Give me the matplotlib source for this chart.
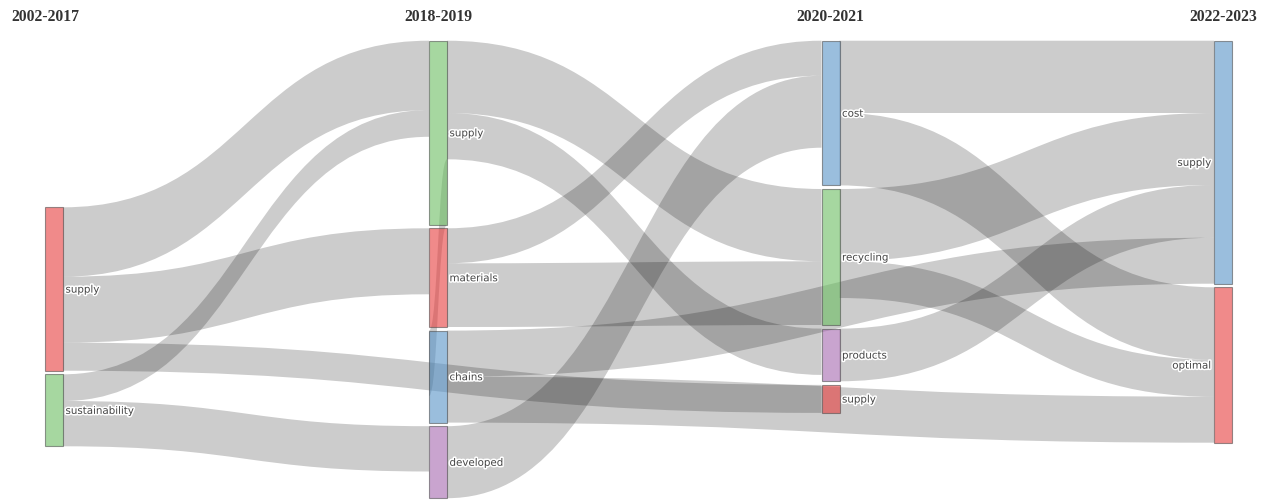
import matplotlib
matplotlib.use("Agg")
import matplotlib.pyplot as plt
import matplotlib.patheffects as pe
from matplotlib.path import Path
from matplotlib.patches import PathPatch, Rectangle

# ─── Data ─────────────────────────────────────────────────────────────────────

periods = ["2002-2017", "2018-2019", "2020-2021", "2022-2023"]

node_labels = ["supply", "sustainability",
               "supply", "materials", "chains", "developed",
               "cost", "recycling", "products", "supply",
               "supply", "optimal"]
node_period = [0, 0, 1, 1, 1, 1, 2, 2, 2, 2, 3, 3]
node_colors = ["red", "green",
               "green", "red", "blue", "purple",
               "blue", "green", "purple", "red",
               "blue", "red"]

link_source = [0, 0, 0, 1, 1, 2, 2, 2, 3, 3, 4, 4, 5, 6, 6, 7, 7, 8]
link_target = [2, 3, 9, 2, 5, 7, 8, 4, 6, 7, 10, 11, 6, 10, 11, 10, 11, 10]
link_value = [69.4, 66.0, 28.0, 26.7, 45.3, 72.3, 46.3, 65.4, 35.0, 63.7,
              46.0, 46.0, 72.0, 72.3, 72.4, 72.0, 37.0, 52.7]

# ─── Layout / style ───────────────────────────────────────────────────────────

W, H = 1267, 500
col_x = [45, 429, 821.5, 1214]        # left edge of the node column
col_top = [207.3, 40.7, 40.7, 40.7]   # top of the first node in each column
node_w = 18
pad = 3.6
ky = 1.0

palette = {
    "red":    (0.90, 0.235, 0.235, 0.6),
    "green":  (0.42, 0.74, 0.38, 0.6),
    "blue":   (0.34, 0.575, 0.78, 0.6),
    "purple": (0.65, 0.405, 0.69, 0.6),
}
link_color = (0, 0, 0, 0.2)
label_color = "#444444"

n = len(node_labels)

# node value = max(in, out)
v_in = [0.0] * n
v_out = [0.0] * n
for s, t, v in zip(link_source, link_target, link_value):
    v_out[s] += v
    v_in[t] += v
node_val = [max(a, b) for a, b in zip(v_in, v_out)]

# stack nodes inside each column
node_y0 = [0.0] * n
node_y1 = [0.0] * n
cursor = list(col_top)
for i in range(n):
    c = node_period[i]
    node_y0[i] = cursor[c]
    node_y1[i] = cursor[c] + node_val[i] * ky
    cursor[c] = node_y1[i] + pad
node_cy = [(a + b) / 2 for a, b in zip(node_y0, node_y1)]

# link offsets at both ends (sorted by the other end's node position)
links = list(range(len(link_value)))
src_off = {}
tgt_off = {}
for i in range(n):
    outs = sorted([k for k in links if link_source[k] == i], key=lambda k: node_cy[link_target[k]])
    y = node_y0[i]
    for k in outs:
        src_off[k] = (y, y + link_value[k] * ky)
        y += link_value[k] * ky
    ins = sorted([k for k in links if link_target[k] == i], key=lambda k: node_cy[link_source[k]])
    y = node_y0[i]
    for k in ins:
        tgt_off[k] = (y, y + link_value[k] * ky)
        y += link_value[k] * ky

# ─── Plot ─────────────────────────────────────────────────────────────────────

fig = plt.figure(figsize=(W / 100, H / 100), dpi=100)
ax = fig.add_axes([0, 0, 1, 1])
ax.set_xlim(0, W)
ax.set_ylim(H, 0)
ax.axis("off")

for k in links:
    s, t = link_source[k], link_target[k]
    x0 = col_x[node_period[s]] + node_w
    x1 = col_x[node_period[t]]
    xm = (x0 + x1) / 2
    s0, s1 = src_off[k]
    t0, t1 = tgt_off[k]
    verts = [(x0, s0), (xm, s0), (xm, t0), (x1, t0),
             (x1, t1), (xm, t1), (xm, s1), (x0, s1), (x0, s0)]
    codes = [Path.MOVETO, Path.CURVE4, Path.CURVE4, Path.CURVE4,
             Path.LINETO, Path.CURVE4, Path.CURVE4, Path.CURVE4, Path.CLOSEPOLY]
    ax.add_patch(PathPatch(Path(verts, codes), facecolor=link_color, lw=0))

halo = [pe.withStroke(linewidth=2.2, foreground="white")]
for i in range(n):
    c = node_period[i]
    ax.add_patch(Rectangle((col_x[c], node_y0[i]), node_w, node_y1[i] - node_y0[i],
                           facecolor=palette[node_colors[i]],
                           edgecolor=(0.27, 0.27, 0.27, 0.55), lw=0.8))
    if c == len(periods) - 1:
        tx, ha = col_x[c] - 3, "right"
    else:
        tx, ha = col_x[c] + node_w + 2.5, "left"
    ax.text(tx, node_cy[i] + 3.6, node_labels[i], ha=ha, va="baseline",
            fontsize=7.4, family="DejaVu Sans", color=label_color, path_effects=halo)

# period headers
for c, p in enumerate(periods):
    cx = col_x[c] + node_w / 2
    if c == 0:
        ax.text(11, 21, p, ha="left", va="baseline", fontsize=11.3,
                family="Liberation Serif", weight="bold", color="#333333")
    else:
        ax.text(cx, 21, p, ha="center", va="baseline", fontsize=11.3,
                family="Liberation Serif", weight="bold", color="#333333")

fig.savefig("out.png", dpi=100)
plt.close(fig)
